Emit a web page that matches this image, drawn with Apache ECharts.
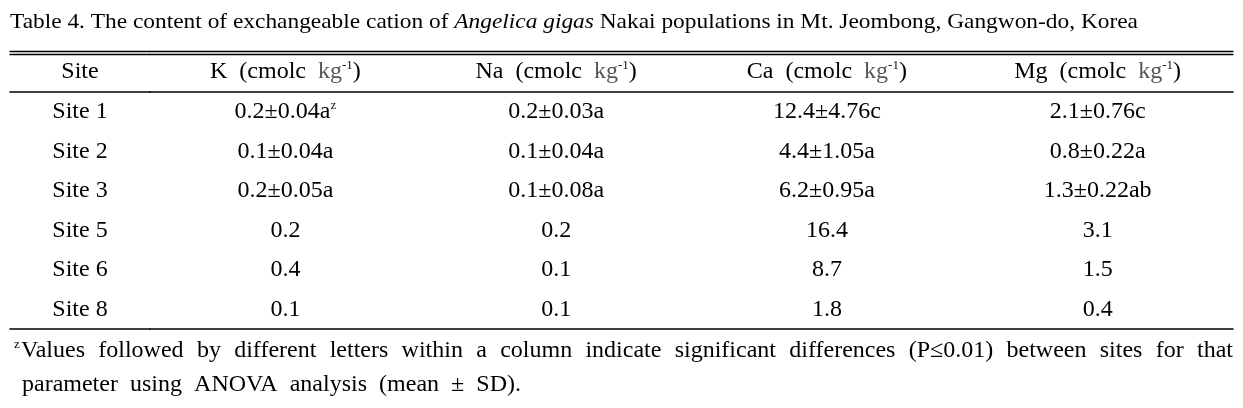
<!DOCTYPE html>
<html><head><meta charset="utf-8">
<script src="https://cdn.jsdelivr.net/npm/echarts@6/dist/echarts.min.js"></script>
<style>html,body{margin:0;padding:0;background:#fff}#c{width:1243px;height:408px}</style>
</head><body><div id="c"></div>
<script>
// ---- data ----
const titleParts = ['Table 4. The content of exchangeable cation of ', 'Angelica gigas', ' Nakai populations in Mt. Jeombong, Gangwon-do, Korea'];
const siteHeader = 'Site';
const columns = ['K', 'Na', 'Ca', 'Mg'];
const unitText = 'cmolc';
const unitKg = 'kg';
const unitExp = '-1';
const sites = ['Site 1', 'Site 2', 'Site 3', 'Site 5', 'Site 6', 'Site 8'];
const kValues = ['0.2±0.04a', '0.1±0.04a', '0.2±0.05a', '0.2', '0.4', '0.1'];
const naValues = ['0.2±0.03a', '0.1±0.04a', '0.1±0.08a', '0.2', '0.1', '0.1'];
const caValues = ['12.4±4.76c', '4.4±1.05a', '6.2±0.95a', '16.4', '8.7', '1.8'];
const mgValues = ['2.1±0.76c', '0.8±0.22a', '1.3±0.22ab', '3.1', '1.5', '0.4'];
const noteMark = 'z';
const noteCell = [0, 0]; // column K, Site 1
const footLine1 = 'Values followed by different letters within a column indicate significant differences (P≤0.01) between sites for that';
const footLine2 = 'parameter using ANOVA analysis (mean ± SD).';

// ---- layout ----
const FONT = '"Liberation Serif", "Times New Roman", serif';
const CELL_FS = 24;
const FOOT_FS = 24;
const TITLE_FS = 22;
const valueCols = [kValues, naValues, caValues, mgValues];

const ctx = document.createElement('canvas').getContext('2d');
function tw(t, fs, st) { ctx.font = (st ? st + ' ' : '') + fs + 'px ' + FONT; return ctx.measureText(t).width; }

// title: condensed to the reference width
const tW = tw(titleParts[0], TITLE_FS) + tw(titleParts[1], TITLE_FS, 'italic') + tw(titleParts[2], TITLE_FS);
const titleScale = 1128 / tW;

// justified footnote words
function justify(line, x0, x1, y) {
  const words = line.split(' ');
  const widths = words.map(w => tw(w, FOOT_FS));
  const total = widths.reduce((a, b) => a + b, 0);
  const gap = (x1 - x0 - total) / (words.length - 1);
  let x = x0;
  return words.map((w, i) => {
    const el = { type: 'text', x: x, y: y, style: { text: w, fontSize: FOOT_FS, fontFamily: FONT, fill: '#000', align: 'left', verticalAlign: 'middle' } };
    x += widths[i] + gap;
    return el;
  });
}
const graphics = [
  {
    type: 'text', x: 10, y: 22, scaleX: titleScale,
    style: {
      text: '{n|' + titleParts[0] + '}{i|' + titleParts[1] + '}{n|' + titleParts[2] + '}',
      align: 'left', verticalAlign: 'middle', fontSize: TITLE_FS, fontFamily: FONT, fill: '#000',
      rich: {
        n: { fontSize: TITLE_FS, fontFamily: FONT, fill: '#000' },
        i: { fontSize: TITLE_FS, fontFamily: FONT, fontStyle: 'italic', fill: '#000' }
      }
    }
  },
  { type: 'text', x: 14, y: 345, style: { text: noteMark, fontSize: 13, fontFamily: FONT, fill: '#000', align: 'left', verticalAlign: 'middle' } }
].concat(justify(footLine1, 21, 1233, 351), justify(footLine2, 22, 521, 385));

const richStyles = {
  kg: { fontSize: CELL_FS, fontFamily: FONT, color: '#555', lineHeight: 26 },
  sup: { fontSize: 13, fontFamily: FONT, color: '#111', verticalAlign: 'top', lineHeight: 14 },
  n: { fontSize: CELL_FS, fontFamily: FONT, color: '#000', lineHeight: 26 }
};

function headerLabel(name) {
  return '{n|' + name + '  (' + unitText + '  }{kg|' + unitKg + '}{sup|' + unitExp + '}{n|)}';
}

function lineAxis(gi, pos, off, w) {
  return {
    gridIndex: gi, type: 'category', data: [''], position: pos, offset: off,
    axisLine: { show: true, lineStyle: { color: '#000', width: w } },
    axisTick: { show: false }, axisLabel: { show: false }, splitLine: { show: false }
  };
}
function hdrAxis(gi, data) {
  return {
    gridIndex: gi, type: 'category', data: data, position: 'top',
    axisLine: { show: true, lineStyle: { color: '#000', width: 1.6 } },
    axisTick: { show: false }, splitLine: { show: false },
    axisLabel: {
      interval: 0, margin: 20, verticalAlign: 'middle', fontSize: CELL_FS, fontFamily: FONT, color: '#000',
      formatter: v => v === siteHeader ? '{n|' + v + '}' : headerLabel(v), rich: richStyles
    }
  };
}

const siteData = sites.map((s, i) => [0, i]);
const cellData = [];
valueCols.forEach((col, c) => col.forEach((v, r) => cellData.push([c, r])));

const cellLabel = {
  show: true, position: 'inside', color: '#000', opacity: 1, textBorderWidth: 0,
  fontSize: CELL_FS, fontFamily: FONT, rich: richStyles
};

const option = {
  animation: false,
  textStyle: { fontFamily: FONT },
  grid: [
    { left: 10, top: 92, width: 140, height: 237 },
    { left: 150, top: 92, width: 1083, height: 237 }
  ],
  xAxis: [
    hdrAxis(0, [siteHeader]),
    lineAxis(0, 'bottom', 0, 1.6),
    lineAxis(0, 'top', 37.5, 1.3),
    lineAxis(0, 'top', 40.5, 1.3),
    hdrAxis(1, columns),
    lineAxis(1, 'bottom', 0, 1.6),
    lineAxis(1, 'top', 37.5, 1.3),
    lineAxis(1, 'top', 40.5, 1.3)
  ],
  yAxis: [
    { gridIndex: 0, type: 'category', data: sites, inverse: true, show: false },
    { gridIndex: 1, type: 'category', data: sites, inverse: true, show: false }
  ],
  series: [
    {
      type: 'scatter', xAxisIndex: 0, yAxisIndex: 0, data: siteData, symbolSize: 0,
      itemStyle: { color: '#000', opacity: 1 }, silent: true,
      label: Object.assign({}, cellLabel, { formatter: p => '{n|' + sites[p.value[1]] + '}' })
    },
    {
      type: 'scatter', xAxisIndex: 4, yAxisIndex: 1, data: cellData, symbolSize: 0,
      itemStyle: { color: '#000', opacity: 1 }, silent: true,
      label: Object.assign({}, cellLabel, {
        formatter: p => {
          const c = p.value[0], r = p.value[1];
          let t = '{n|' + valueCols[c][r] + '}';
          if (c === noteCell[0] && r === noteCell[1]) t += '{sup|' + noteMark + '}';
          return t;
        }
      })
    }
  ],
  graphic: graphics
};

const chart = echarts.init(document.getElementById('c'), null, { renderer: 'canvas' });
chart.setOption(option);
</script>
</body></html>
